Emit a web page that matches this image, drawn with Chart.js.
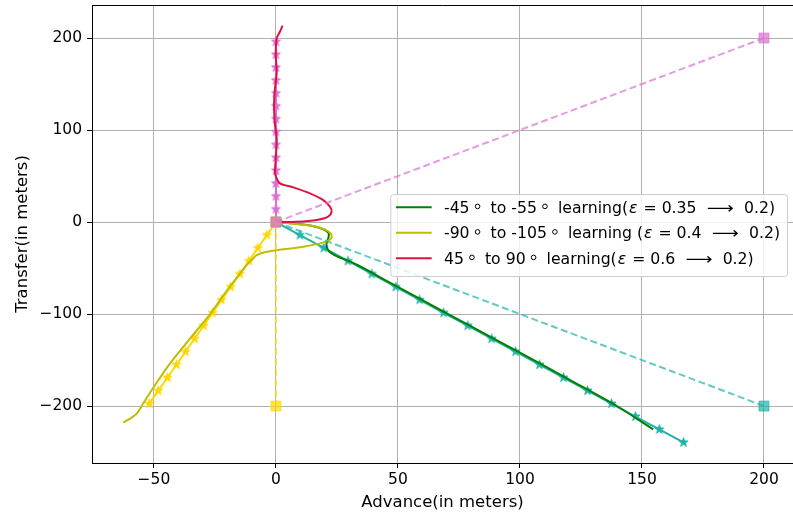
<!DOCTYPE html>
<html>
<head>
<meta charset="utf-8">
<script src="https://cdn.jsdelivr.net/npm/chart.js@4.4.1/dist/chart.umd.min.js"></script>
<style>
  html, body { margin: 0; padding: 0; overflow: hidden; background: #fff; }
  canvas { display: block; }
</style>
</head>
<body>
<canvas id="chart" width="793" height="517"></canvas>
<script>
// learning runs (advance x / transfer y, metres)
const greenX = [0, 8.5, 15, 19.5, 21.6, 21.5, 20.8, 20.8, 21.8, 24, 27, 30, 34, 38.5, 44, 60, 80, 100, 120, 140, 154.6];
const greenY = [0, -2, -4.3, -8, -12.3, -17, -22, -27, -32, -36, -39.5, -42.5, -47.5, -54, -62, -85, -113.5, -142, -171, -200.5, -225.4];

const yellowX = [0, 8.5, 15.3, 20, 22.4, 22.8, 21.4, 18, 11.2, 3, -3.8, -7.9, -10, -12, -20, -27, -35, -43.4, -49, -54.4, -57, -60, -62.6];
const yellowY = [0, -2.2, -4.3, -8, -12.3, -16.6, -20.3, -23.2, -26.8, -29.7, -32.3, -35.9, -41.3, -46.7, -74, -100, -126, -153.6, -175, -197, -208, -214, -218];

const redX = [0, 8.5, 16.7, 21.4, 22.8, 22.1, 19.4, 13.9, 7.1, 1.6, 0, -0.4, 0, 0.3, -0.4, -0.8, -0.4, 0.3, -0.1, 0.3, 1.6, 2.7];
const redY = [0, 0.3, 2.2, 5.8, 11.2, 16.7, 23.9, 31.2, 37.7, 42, 49.3, 54.7, 72.8, 91, 105.4, 127, 145.3, 163.4, 181.5, 199.7, 206.8, 213.4];

// reference paths with star markers
const tealX = [0, 9.8, 19.6, 29.5, 39.3, 49.1, 58.9, 68.7, 78.6, 88.4, 98.2, 108, 117.8, 127.7, 137.5, 147.3, 157.1, 167];
const tealY = [0, -14.1, -28.2, -42.3, -56.4, -70.5, -84.5, -98.6, -112.7, -126.8, -140.9, -155, -169.1, -183.2, -197.3, -211.4, -225.4, -239.5];

const goldX = [0, -3.7, -7.4, -11.1, -14.8, -18.6, -22.3, -26, -29.7, -33.4, -37.1, -40.8, -44.5, -48.2, -51.9];
const goldY = [0, -14.1, -28.2, -42.3, -56.4, -70.5, -84.6, -98.7, -112.8, -126.9, -141, -155.1, -169.2, -183.3, -197.4];

const violetX = [0, 0, 0, 0, 0, 0, 0, 0, 0, 0, 0, 0, 0, 0, 0];
const violetY = [0, 14, 28, 42, 56, 70, 84, 98, 112, 126, 140, 154, 168, 182, 196];

// target lines (dashed, squares at both ends)
const tealTargetX = [0, 200];
const tealTargetY = [0, -200];
const goldTargetX = [0, 0];
const goldTargetY = [0, -200];
const violetTargetX = [0, 200];
const violetTargetY = [0, 200];

const legendLabels = [
  '-45° to -55° learning(ε = 0.35 ⟶ 0.2)',
  '-90° to -105° learning (ε = 0.4 ⟶ 0.2)',
  '45° to 90° learning(ε = 0.6 ⟶ 0.2)'
];
const xTicks = [-50, 0, 50, 100, 150, 200];
const yTicks = [-200, -100, 0, 100, 200];

const FONT = 'DejaVu Sans';
Chart.defaults.font.family = FONT;
Chart.defaults.color = '#000';

const pts = (xs, ys) => xs.map((x, i) => ({ x: x, y: ys[i] }));

function starMarker(color) {
  const c = document.createElement('canvas');
  const s = 13;
  c.width = s; c.height = s;
  const g = c.getContext('2d');
  const R = 4.8;
  g.beginPath();
  for (let i = 0; i < 10; i++) {
    const rad = i % 2 ? R * 0.382 : R;
    const a = -Math.PI / 2 + i * Math.PI / 5;
    g.lineTo(s / 2 + rad * Math.cos(a), s / 2 + rad * Math.sin(a));
  }
  g.closePath();
  g.fillStyle = color;
  g.fill();
  g.strokeStyle = color;
  g.lineWidth = 1;
  g.stroke();
  return c;
}

function learning(label, xs, ys, color, order) {
  return {
    label: label, data: pts(xs, ys), showLine: true, borderColor: color, borderWidth: 2,
    pointRadius: 0, tension: 0.3, order: order
  };
}
function starred(xs, ys, color, order) {
  return {
    data: pts(xs, ys), showLine: true, borderColor: color, borderWidth: 2,
    pointStyle: starMarker(color), pointRadius: 5, order: order
  };
}
function target(xs, ys, rgb, order) {
  const col = 'rgba(' + rgb + ',0.7)';
  return {
    data: pts(xs, ys), showLine: true, borderColor: col, borderWidth: 2, borderDash: [7, 3.5],
    pointStyle: 'rect', pointRadius: 7, pointBackgroundColor: col, pointBorderColor: col,
    pointBorderWidth: 1, order: order
  };
}

// draws "°" as a raised ring, ε in italics and a long arrow, like matplotlib mathtext
function richText(ctx, text, x, y, draw) {
  const size = 15.7;
  const base = size + 'px "' + FONT + '"';
  const ital = 'italic ' + size + 'px "' + FONT + '"';
  let run = '';
  const flush = () => {
    if (!run) return;
    ctx.font = base;
    if (draw) ctx.fillText(run, x, y);
    x += ctx.measureText(run).width;
    run = '';
  };
  for (const ch of text) {
    if (ch === '°') {
      flush();
      x += 5.5;
      if (draw) {
        ctx.beginPath();
        ctx.arc(x + 2.5, y - 6.5, 2.3, 0, Math.PI * 2);
        ctx.lineWidth = 1;
        ctx.stroke();
      }
      x += 5 + 5.5;
    } else if (ch === 'ε') {
      flush();
      ctx.font = ital;
      x += 1;
      if (draw) ctx.fillText(ch, x, y);
      x += ctx.measureText(ch).width + 1;
    } else if (ch === '⟶') {
      flush();
      x += 5.2;
      ctx.font = base;
      const w = ctx.measureText(ch).width;
      if (draw) {
        ctx.save();
        ctx.translate(x, y);
        ctx.scale(27 / w, 1);
        ctx.fillText(ch, 0, 0);
        ctx.restore();
      }
      x += 27 + 5.2;
    } else {
      run += ch;
    }
  }
  flush();
  return x;
}

// top spine only; the right one sits just past the picture's edge
const frameBox = {
  id: 'frameBox',
  afterDatasetsDraw(chart) {
    const { ctx, chartArea: { left, top, right } } = chart;
    ctx.save();
    ctx.strokeStyle = '#000';
    ctx.lineWidth = 1;
    ctx.beginPath();
    ctx.moveTo(left, top + 0.5);
    ctx.lineTo(right, top + 0.5);
    ctx.stroke();
    ctx.restore();
  }
};

const legendBox = {
  id: 'legendBox',
  afterDraw(chart, args, options) {
    const { ctx, chartArea } = chart;
    ctx.save();
    ctx.textBaseline = 'alphabetic';
    let maxW = 0;
    options.labels.forEach(t => { maxW = Math.max(maxW, richText(ctx, t, 0, 0, false)); });
    const boxW = 5.7 + 35.7 + 12.3 + maxW + 7;
    const right = chartArea.right - 6;
    const left = right - boxW;
    const top = chartArea.top + 189;
    const rowH = 25.5;
    const boxH = 82;
    ctx.beginPath();
    ctx.roundRect(left + 0.5, top + 0.5, boxW, boxH, 3);
    ctx.fillStyle = 'rgba(255,255,255,0.8)';
    ctx.fill();
    ctx.strokeStyle = '#cccccc';
    ctx.lineWidth = 1;
    ctx.stroke();
    options.labels.forEach((t, i) => {
      const cy = top + 13.3 + i * rowH;
      ctx.beginPath();
      ctx.moveTo(left + 5.7, cy);
      ctx.lineTo(left + 41.4, cy);
      ctx.strokeStyle = options.colors[i];
      ctx.lineWidth = 2;
      ctx.stroke();
      ctx.fillStyle = '#000';
      ctx.strokeStyle = '#000';
      richText(ctx, t, left + 53.7, cy + 5.6, true);
    });
    ctx.restore();
  }
};

const minusSign = v => String(v).replace('-', '\u2212');

new Chart(document.getElementById('chart'), {
  type: 'scatter',
  data: {
    datasets: [
      target(violetTargetX, violetTargetY, '218,112,214', 0),
      target(tealTargetX, tealTargetY, '32,178,170', 0.2),
      target(goldTargetX, goldTargetY, '255,215,0', 0.1),
      learning(legendLabels[2], redX, redY, '#dc143c', 1),
      learning(legendLabels[1], yellowX, yellowY, '#bfbf00', 1.1),
      learning(legendLabels[0], greenX, greenY, '#008000', 1.2),
      starred(violetX, violetY, '#da70d6', 2),
      starred(goldX, goldY, '#ffd700', 2.1),
      starred(tealX, tealY, '#20b2aa', 2.2)
    ]
  },
  options: {
    responsive: false,
    animation: false,
    layout: { autoPadding: false, padding: { top: 5, right: 0, left: 0, bottom: 0 } },
    plugins: {
      legend: { display: false },
      tooltip: { enabled: false },
      legendBox: {
        labels: legendLabels,
        colors: ['#008000', '#bfbf00', '#dc143c']
      }
    },
    scales: {
      x: {
        type: 'linear',
        min: -75.4,
        max: 211.9,
        afterBuildTicks: s => { s.ticks = xTicks.map(v => ({ value: v })); },
        afterFit: s => { s.height = 54; s.paddingLeft = 0; s.paddingRight = 0; },
        grid: { color: '#b0b0b0', lineWidth: 1, tickColor: '#000', tickLength: 5 },
        border: { color: '#000', width: 1 },
        ticks: { color: '#000', font: { size: 15.5 }, padding: 3, maxRotation: 0, callback: minusSign },
        title: { display: true, text: 'Advance(in meters)', color: '#000', font: { size: 16.5 }, padding: { top: 0, bottom: 4 } }
      },
      y: {
        type: 'linear',
        min: -261.9,
        max: 235.9,
        afterBuildTicks: s => { s.ticks = yTicks.map(v => ({ value: v })); },
        afterFit: s => { s.width = 92; s.paddingTop = 0; s.paddingBottom = 0; },
        grid: { color: '#b0b0b0', lineWidth: 1, tickColor: '#000', tickLength: 5 },
        border: { color: '#000', width: 1 },
        ticks: { color: '#000', font: { size: 15.5 }, padding: 5, callback: minusSign },
        title: { display: true, text: 'Transfer(in meters)', color: '#000', font: { size: 16.5 }, padding: { top: 13, bottom: 0 } }
      }
    }
  },
  plugins: [frameBox, legendBox]
});
</script>
</body>
</html>
